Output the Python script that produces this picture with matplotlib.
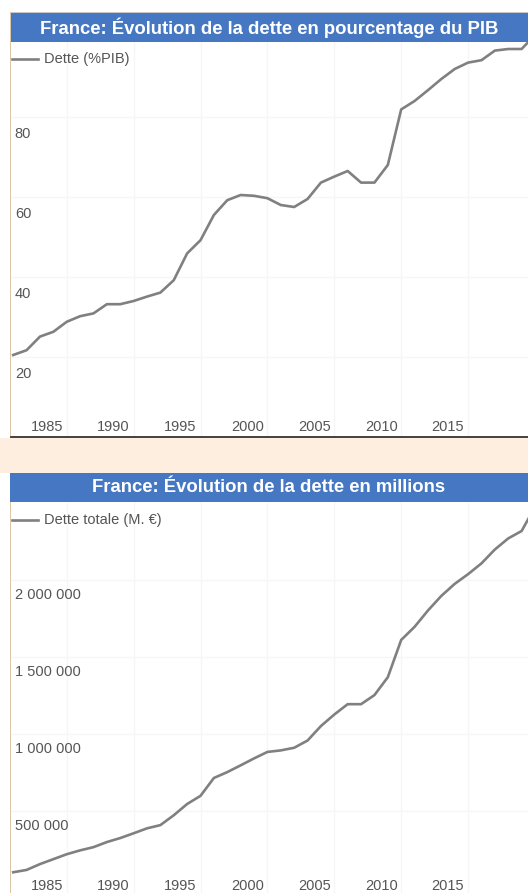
import numpy as np
import matplotlib
matplotlib.use("Agg")
import matplotlib.pyplot as plt
from matplotlib.patches import Rectangle
from matplotlib.transforms import offset_copy

plt.rcParams['font.family'] = ['Liberation Sans', 'DejaVu Sans']

W, H = 528, 893

years = list(range(1980, 2020))

# dette en % du PIB
dette_pib = [20.5, 21.7, 25.1, 26.3, 28.8, 30.2, 30.9, 33.2, 33.2, 34.0,
             35.1, 36.1, 39.2, 45.9, 49.2, 55.5, 59.2, 60.5, 60.3, 59.7,
             58.0, 57.5, 59.5, 63.6, 65.1, 66.5, 63.6, 63.6, 68.0, 81.9,
             84.0, 86.7, 89.5, 92.0, 93.6, 94.2, 96.6, 97.0, 97.0, 100.5]

# dette totale en millions d'euros
dette_tot = [103000, 118000, 156000, 188000, 220000, 245000, 266000, 299000, 325000, 356000,
             388000, 409000, 473000, 546000, 599000, 715000, 753000, 797000, 842000, 884000,
             894000, 911000, 958000, 1052000, 1127000, 1194000, 1194000, 1253000, 1369000, 1611000,
             1696000, 1802000, 1897000, 1975000, 2038000, 2108000, 2198000, 2270000, 2318000, 2475000]

pib_ticks = [20, 40, 60, 80]
tot_ticks = [500000, 1000000, 1500000, 2000000]
year_ticks = [1985, 1990, 1995, 2000, 2005, 2010, 2015]

titre1 = "France: Évolution de la dette en pourcentage du PIB"
titre2 = "France: Évolution de la dette en millions"
legende1 = "Dette (%PIB)"
legende2 = "Dette totale (M. €)"

BLUE = "#4677c2"
BEIGE = "#fdeee0"
TAN = "#dcc6a8"
LINE = "#808080"
TXT = "#555555"
GRID = "#f6f6f6"
FS = 10.5


def box(x0, y0, x1, y1):
    return [x0 / W, 1 - y1 / H, (x1 - x0) / W, (y1 - y0) / H]


fig = plt.figure(figsize=(W / 100, H / 100), dpi=100)
bg = fig.add_axes([0, 0, 1, 1])
bg.set_xlim(0, W)
bg.set_ylim(H, 0)
bg.axis('off')

# décor de page
bg.add_patch(Rectangle((0, 438), W, 35, color=BEIGE, lw=0))
bg.add_patch(Rectangle((10, 12), W - 10, 1.2, color="#c8c8c8", lw=0))
bg.add_patch(Rectangle((10, 13), W - 10, 29, color=BLUE, lw=0))
bg.add_patch(Rectangle((10, 473), W - 10, 29, color=BLUE, lw=0))
bg.add_patch(Rectangle((9.5, 12), 1.3, 426, color=TAN, lw=0))
bg.add_patch(Rectangle((9.5, 502), 1.3, 391, color=TAN, lw=0))
bg.text(269, 28, titre1, color="white", fontsize=13.3, fontweight="bold",
        ha="center", va="center")
bg.text(269, 488, titre2, color="white", fontsize=13.3, fontweight="bold",
        ha="center", va="center")

x0_year = 1980 - 2.4 / 13.4
x1_year = 1980 + 515.6 / 13.4


def make_axes(y_top, y_bot, vals, ylim, yticks, ylabels, legend, label_dy,
              year_dy, legend_dy, bottom_line):
    ax = fig.add_axes(box(10.8, y_top, W, y_bot))
    ax.set_facecolor("white")
    ax.plot(years, vals, color=LINE, lw=1.9, solid_joinstyle="round", zorder=3)
    ax.set_xlim(x0_year, x1_year)
    ax.set_ylim(*ylim)
    for s in ax.spines.values():
        s.set_visible(False)
    if bottom_line:
        ax.spines['bottom'].set_visible(True)
        ax.spines['bottom'].set_color("#333333")
        ax.spines['bottom'].set_linewidth(1.3)
    ax.set_xticks([y - 1 for y in year_ticks])
    ax.set_yticks(yticks)
    ax.grid(True, color=GRID, lw=1)
    ax.tick_params(length=0, labelleft=False, labelbottom=False)

    # étiquettes de l'axe y (dans le graphique, sous la grille)
    tr = offset_copy(ax.transData, fig=fig, x=0, y=-label_dy, units='dots')
    for v, lab in zip(yticks, ylabels):
        ax.text(x0_year + 0.3, v, lab, transform=tr, color=TXT, fontsize=FS,
                ha="left", va="center")
    # étiquettes des années
    trx = offset_copy(ax.get_xaxis_transform(), fig=fig, x=0, y=year_dy, units='dots')
    for y in year_ticks:
        ax.text(y - 2.5, 0, str(y), transform=trx, color=TXT, fontsize=FS,
                ha="center", va="center")
    # légende
    ly = 1 - legend_dy / (y_bot - y_top)
    ax.plot([x0_year + 0.1, x0_year + 2.0], [ly, ly], transform=ax.get_xaxis_transform(),
            color=LINE, lw=1.9, clip_on=False)
    ax.text(x0_year + 2.5, ly, legend, transform=ax.get_xaxis_transform(),
            color=TXT, fontsize=FS, ha="left", va="center")
    return ax


ax1 = make_axes(42, 437, dette_pib, (0, 98.75), pib_ticks,
                [str(v) for v in pib_ticks], legende1, 17, 10, 17, True)

per_px = 1000000 / 158
ax2 = make_axes(502, 893, dette_tot, (-5 * per_px, 396 * per_px), tot_ticks,
                [f"{v:,}".replace(",", " ") for v in tot_ticks], legende2, 15, 7, 18, False)

fig.savefig("out.png", dpi=100)
